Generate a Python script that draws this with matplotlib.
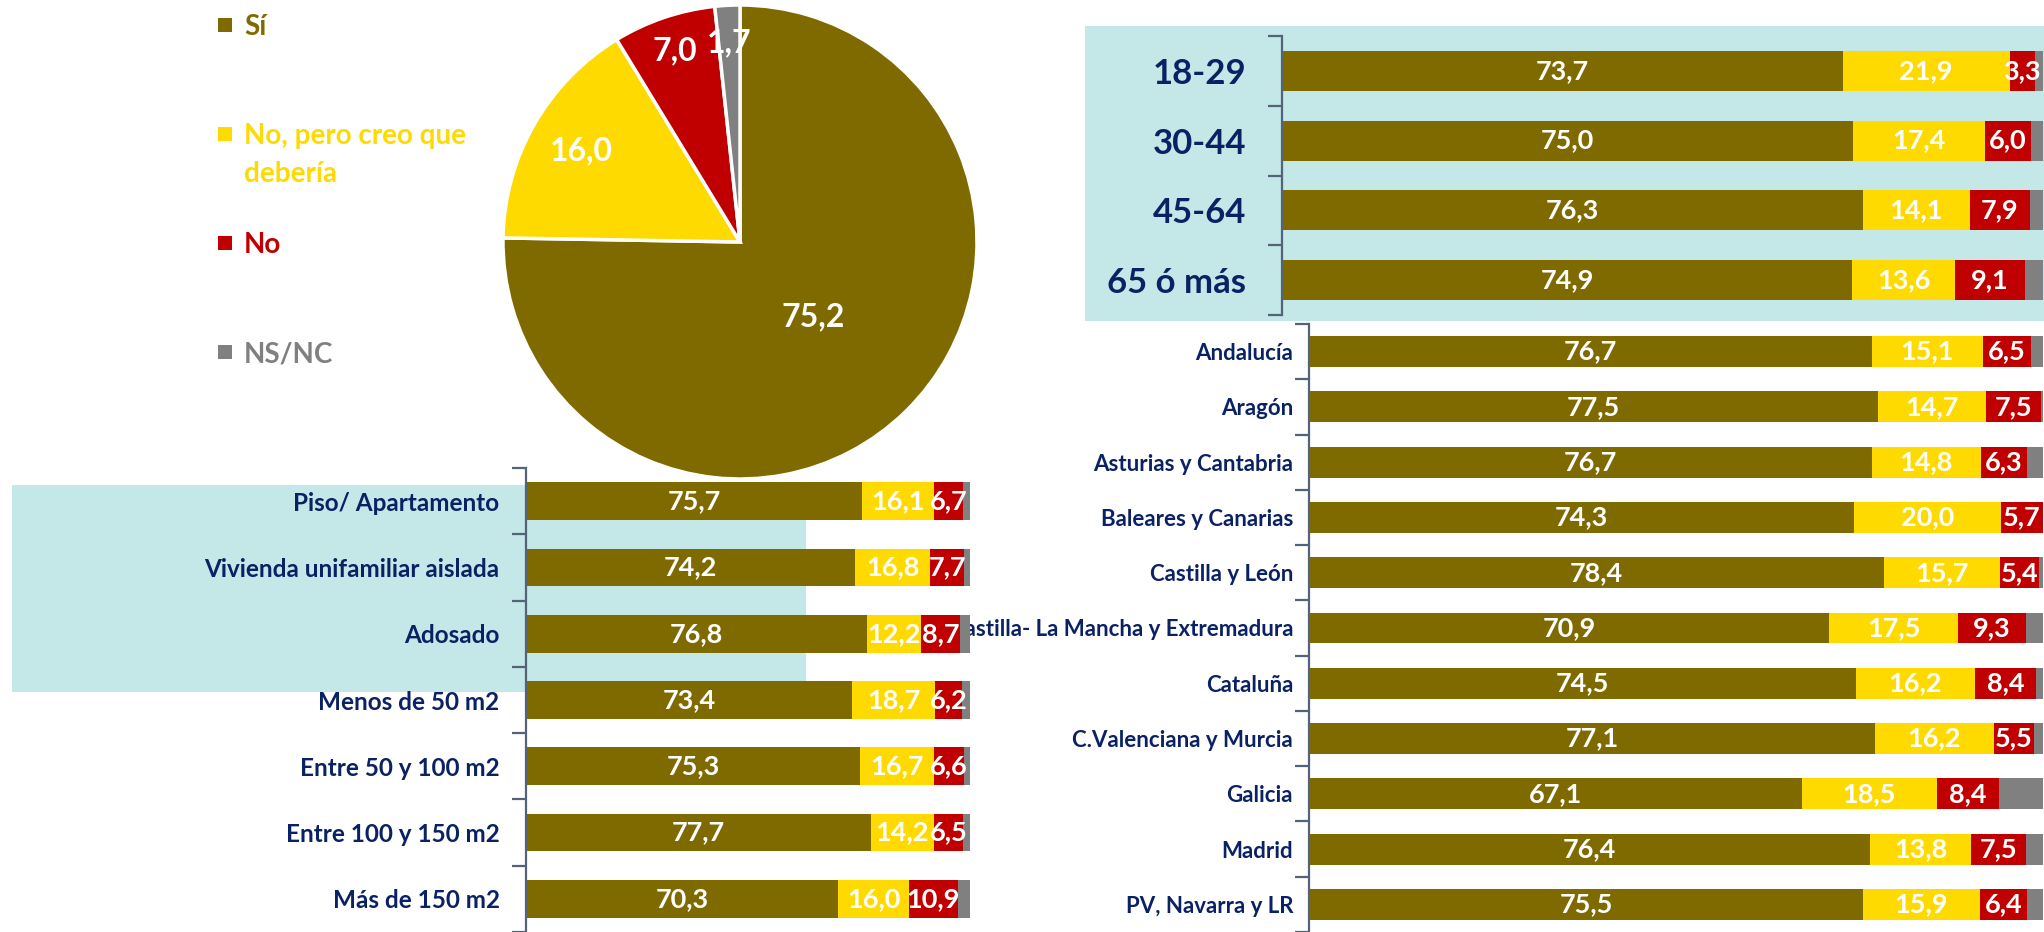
import matplotlib
matplotlib.use('Agg')
import matplotlib.pyplot as plt
import numpy as np
from matplotlib.patches import Rectangle

# ---------------- data ----------------
series_names = ['Sí', 'No, pero creo que\ndebería', 'No', 'NS/NC']
pie_values = [75.2, 16.0, 7.0, 1.7]

age_labels = ['18-29', '30-44', '45-64', '65 ó más']
age_si = [73.7, 75.0, 76.3, 74.9]
age_nopero = [21.9, 17.4, 14.1, 13.6]
age_no = [3.3, 6.0, 7.9, 9.1]
age_nsnc = [1.1, 1.6, 1.7, 2.4]

region_labels = ['Andalucía', 'Aragón', 'Asturias y Cantabria', 'Baleares y Canarias',
                 'Castilla y León', 'Castilla- La Mancha y Extremadura', 'Cataluña',
                 'C.Valenciana y Murcia', 'Galicia', 'Madrid', 'PV, Navarra y LR']
region_si = [76.7, 77.5, 76.7, 74.3, 78.4, 70.9, 74.5, 77.1, 67.1, 76.4, 75.5]
region_nopero = [15.1, 14.7, 14.8, 20.0, 15.7, 17.5, 16.2, 16.2, 18.5, 13.8, 15.9]
region_no = [6.5, 7.5, 6.3, 5.7, 5.4, 9.3, 8.4, 5.5, 8.4, 7.5, 6.4]
region_nsnc = [1.7, 0.3, 2.2, 0.0, 0.5, 2.3, 0.9, 1.2, 6.0, 2.3, 2.2]

housing_labels = ['Piso/ Apartamento', 'Vivienda unifamiliar aislada', 'Adosado',
                  'Menos de 50 m2', 'Entre 50 y 100 m2', 'Entre 100 y 150 m2', 'Más de 150 m2']
housing_si = [75.7, 74.2, 76.8, 73.4, 75.3, 77.7, 70.3]
housing_nopero = [16.1, 16.8, 12.2, 18.7, 16.7, 14.2, 16.0]
housing_no = [6.7, 7.7, 8.7, 6.2, 6.6, 6.5, 10.9]
housing_nsnc = [1.5, 1.3, 2.3, 1.7, 1.4, 1.6, 2.8]

# ---------------- style ----------------
OLIVE = '#7F6A00'
YELLOW = '#FFDA00'
RED = '#C00000'
GRAY = '#808080'
COLORS = [OLIVE, YELLOW, RED, GRAY]
CYAN = '#C4E7E7'
NAVY = '#0A2163'
SPINE = '#556379'
FONT = ['Lato', 'DejaVu Sans']
plt.rcParams['font.family'] = FONT

W, H = 2044, 932
fig = plt.figure(figsize=(W / 100, H / 100), dpi=100)


def frect(l, t, r, b):
    return [l / W, 1 - b / H, (r - l) / W, (b - t) / H]


def fmt(v):
    return f'{v:.1f}'.replace('.', ',')


def stacked(ax, labels, series, height, label_fs, val_fs, pad):
    n = len(labels)
    y = np.arange(n)
    left = np.zeros(n)
    for i, (vals, c) in enumerate(zip(series, COLORS)):
        vals = np.asarray(vals, dtype=float)
        bars = ax.barh(y, vals, left=left, height=height, color=c, linewidth=0, zorder=2)
        if i < 3:
            ax.bar_label(bars, labels=[fmt(v) for v in vals], label_type='center',
                         color='white', fontsize=val_fs, fontweight='bold', zorder=3)
        left += vals
    ax.set_xlim(0, 100)
    ax.set_ylim(n - 0.5, -0.5)
    ax.set_yticks(y)
    ax.set_yticklabels(labels, fontsize=label_fs, fontweight='bold', color=NAVY)
    ax.set_yticks(np.arange(n + 1) - 0.5, minor=True)
    ax.tick_params(axis='y', which='major', length=0, pad=pad)
    ax.tick_params(axis='y', which='minor', length=10, width=1.6, color=SPINE, direction='out')
    ax.set_xticks([])
    for s in ['top', 'right', 'bottom']:
        ax.spines[s].set_visible(False)
    ax.spines['left'].set_color(SPINE)
    ax.spines['left'].set_linewidth(1.6)


# ---------------- age panel ----------------
fig.add_artist(Rectangle((1085 / W, 1 - 321 / H), (W - 1085) / W, (321 - 26) / H,
                         transform=fig.transFigure, facecolor=CYAN, edgecolor='none', zorder=-1))
ax_age = fig.add_axes(frect(1282, 36, 2043, 315), zorder=1)
ax_age.set_facecolor('none')
stacked(ax_age, age_labels, [age_si, age_nopero, age_no, age_nsnc], 0.57, 25, 19.5, 26)

# ---------------- region panel ----------------
ax_reg = fig.add_axes(frect(1309, 324, 2043, 932), zorder=1)
ax_reg.set_facecolor('none')
stacked(ax_reg, region_labels, [region_si, region_nopero, region_no, region_nsnc], 0.56, 16, 19.5, 11.5)

# ---------------- housing panel ----------------
ax_h = fig.add_axes(frect(526, 468, 970, 932), zorder=2)
ax_h.set_facecolor('white')
ax_h.add_patch(Rectangle((12 / W, 1 - 692 / H), (806 - 12) / W, (692 - 485) / H,
                         transform=fig.transFigure, facecolor=CYAN, edgecolor='none',
                         clip_on=False, zorder=0.5))
stacked(ax_h, housing_labels, [housing_si, housing_nopero, housing_no, housing_nsnc], 0.57, 17.5, 19.5, 19)

# ---------------- pie ----------------
ax_p = fig.add_axes(frect(503, 5, 977, 479), zorder=3)
wedges, _ = ax_p.pie(pie_values, colors=COLORS, startangle=90, counterclock=False,
                     wedgeprops=dict(edgecolor='white', linewidth=2.5))
ax_p.set_xlim(-1, 1)
ax_p.set_ylim(-1, 1)
label_r = [0.44, 0.77, 0.85, 0.84]
for w, v, r in zip(wedges, pie_values, label_r):
    ang = np.deg2rad((w.theta1 + w.theta2) / 2)
    ax_p.text(r * np.cos(ang), r * np.sin(ang), fmt(v), ha='center', va='center',
              color='white', fontsize=23, fontweight='bold')

# ---------------- legend ----------------
leg_fs = 20
leg_y0, leg_step, line_pitch = 25, 109, 38
for i, (name, c) in enumerate(zip(series_names, COLORS)):
    yc = leg_y0 + i * leg_step
    fig.add_artist(Rectangle((218 / W, 1 - (yc + 7) / H), 14 / W, 14 / H,
                             transform=fig.transFigure, facecolor=c, edgecolor='none'))
    for k, line in enumerate(name.split('\n')):
        fig.text(244 / W, 1 - (yc + 10 + k * line_pitch) / H, line, color=c, fontsize=leg_fs,
                 fontweight='bold', va='baseline', ha='left')

fig.savefig('out.png', dpi=100)
